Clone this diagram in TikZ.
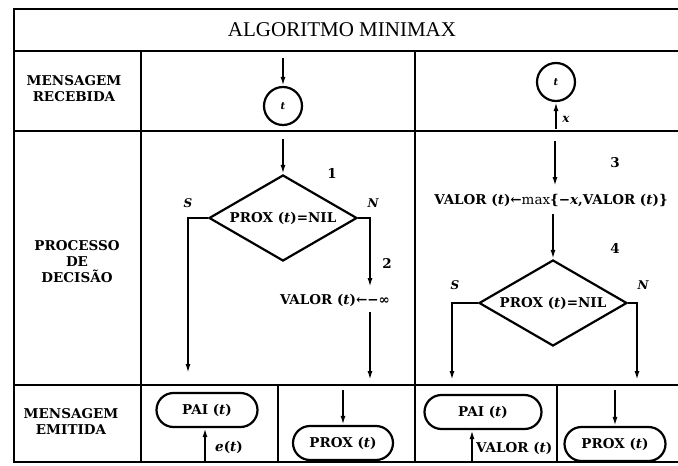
\documentclass[tikz,border=0pt]{standalone}
\usepackage{fontspec}
\setmainfont{DejaVu Serif}
\newfontfamily\titlefont{Liberation Serif}
\usetikzlibrary{shapes.geometric,shapes.misc,arrows.meta}
\begin{document}
\begin{tikzpicture}[x=1pt,y=-1pt,
  frame/.style={line width=2.3pt, line cap=round},
  arr/.style={line width=1.7pt, -{Latex[length=9pt,width=5pt]}},
  lbl/.style={font=\fontsize{13.5}{16}\selectfont\bfseries, align=center, inner sep=0pt},
  lets/.style={font=\fontsize{12}{14}\selectfont\bfseries\itshape, inner sep=0pt},
  dec/.style={diamond, draw, line width=2.2pt, aspect=1.72, minimum width=148pt, minimum height=86pt, inner sep=0pt, font=\fontsize{13.5}{16}\selectfont\bfseries},
  term/.style={rounded rectangle, draw, line width=2.2pt, inner sep=0pt, minimum height=34pt, font=\fontsize{13.5}{16}\selectfont\bfseries},
  circ/.style={circle, draw, line width=2.2pt, minimum size=38pt, inner sep=0pt, font=\fontsize{10}{12}\selectfont\bfseries\itshape},
  ]
\useasboundingbox (0,0) rectangle (678,466);
% frame
\draw[frame] (678,9) -- (14,9) -- (14,462) -- (678,462);
\draw[frame] (14,51) -- (678,51);
\draw[frame] (14,131) -- (678,131);
\draw[frame] (14,385) -- (678,385);
\draw[frame] (141,51) -- (141,462);
\draw[frame] (415,51) -- (415,462);
\draw[frame] (278,385) -- (278,462);
\draw[frame] (557,385) -- (557,462);
% row titles
\node[font=\titlefont\fontsize{21}{24}\selectfont] (title) at (342,30) {ALGORITMO MINIMAX};
\node[lbl] (r1) at (74,89) {MENSAGEM\\RECEBIDA};
\node[lbl] (r2) at (77,262) {PROCESSO\\DE\\DECISÃO};
\node[lbl] (r3) at (71,421) {MENSAGEM\\EMITIDA};
% left: message received
\node[circ] (c1) at (283,106) {t};
\coordinate (in1) at (283,58);
\draw[arr] (in1) -- (c1);
% left: decision
\node[dec] (d1) at (283,218) {PROX (\textit{t})=NIL};
\coordinate (in1b) at (283,139);
\draw[arr] (in1b) -- (d1);
\node[lbl] (n1) at (332,173) {1};
\node[lets] (s1) at (188,203) {S};
\node[lets] (nn1) at (373,203) {N};
\coordinate (s1e) at (188,373);
\draw[arr] (d1.west) -| (s1e);
\node[lbl] (v1) at (335,300) {VALOR (\textit{t})←−∞};
\coordinate (n1e) at (370,287);
\draw[arr] (d1.east) -| (n1e);
\node[lbl] (n2) at (387,263) {2};
\coordinate (n1s) at (370,312);
\coordinate (n1f) at (370,380);
\draw[arr] (n1s) -- (n1f);
% left: emitted
\node[term, minimum width=101pt] (pai1) at (207,410) {PAI (\textit{t})};
\coordinate (e1) at (205,461);
\draw[arr] (e1) -- (e1 |- pai1.south);
\node[lbl] (et) at (229,447) {\textit{e}(\textit{t})};
\node[term, minimum width=100pt] (prox1) at (343,443) {PROX (\textit{t})};
\coordinate (p1in) at (343,390);
\draw[arr] (p1in) -- (prox1);
% right: message received
\node[circ] (c2) at (556,82) {t};
\coordinate (x2) at (556,129);
\draw[arr] (x2) -- (c2);
\node[lets] (xl) at (566,119) {x};
% right: decision
\coordinate (in2) at (555,141);
\node[lbl] (v3) at (551,200) {VALOR (\textit{t})←\textmd{max}\{−\textit{x},VALOR (\textit{t})\}};
\draw[arr] (in2) -- (555,186);
\node[lbl] (n3) at (615,163) {3};
\node[dec] (d2) at (553,303) {PROX (\textit{t})=NIL};
\coordinate (v3b) at (553,214);
\draw[arr] (v3b) -- (d2);
\node[lbl] (n4) at (615,248) {4};
\node[lets] (s2) at (455,285) {S};
\node[lets] (nn2) at (643,285) {N};
\coordinate (s2e) at (452,380);
\coordinate (n2e) at (637,380);
\draw[arr] (d2.west) -| (s2e);
\draw[arr] (d2.east) -| (n2e);
% right: emitted
\node[term, minimum width=117pt] (pai2) at (483,412) {PAI (\textit{t})};
\coordinate (e2) at (472,461);
\draw[arr] (e2) -- (e2 |- pai2.south);
\node[lbl, anchor=west] (vt) at (476,448) {VALOR (\textit{t})};
\node[term, minimum width=101pt] (prox2) at (615,444) {PROX (\textit{t})};
\coordinate (p2in) at (615,390);
\draw[arr] (p2in) -- (prox2);
\end{tikzpicture}
\end{document}
